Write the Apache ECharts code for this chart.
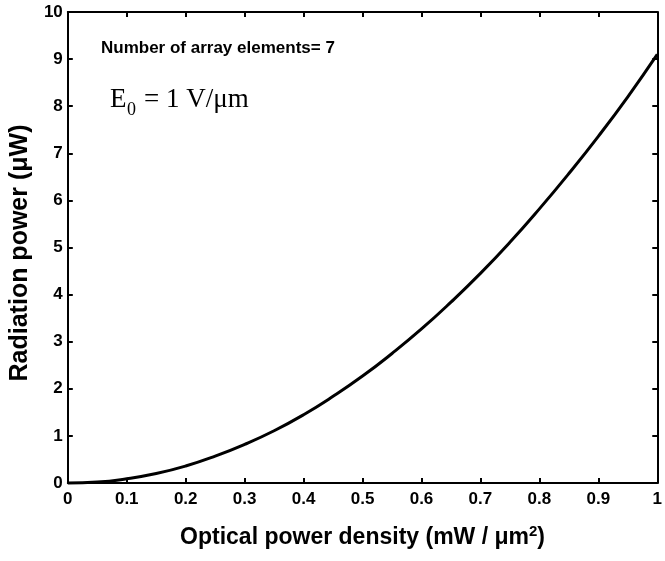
<!DOCTYPE html>
<html><head><meta charset="utf-8">
<script src="https://cdn.jsdelivr.net/npm/echarts@6/dist/echarts.min.js"></script>
<style>html,body{margin:0;padding:0;background:#fff}#c{width:665px;height:561px}</style>
</head><body><div id="c"></div>
<script>
const xValues = [0,0.05,0.1,0.15,0.2,0.25,0.3,0.35,0.4,0.45,0.5,0.55,0.6,0.65,0.7,0.75,0.8,0.85,0.9,0.95,1.0];
const radiationPower = [0,0.02,0.09,0.2,0.36,0.57,0.82,1.11,1.45,1.84,2.27,2.75,3.27,3.84,4.45,5.11,5.82,6.57,7.36,8.2,9.1];
const xTitle = 'Optical power density (mW / μm';
const yTitle = 'Radiation power (μW)';
const annotation1 = 'Number of array elements= 7';

const chart = echarts.init(document.getElementById('c'), null, {renderer:'canvas'});
const axisBase = {
  type:'value',
  axisLine:{show:true,onZero:false,lineStyle:{color:'#000',width:2}},
  axisTick:{show:true,inside:true,length:5,lineStyle:{color:'#000',width:2}},
  splitLine:{show:false}
};
const FF = '"Liberation Sans", Arial, Helvetica';
const lblStyle = {color:'#000',fontFamily:FF,fontWeight:'bold',fontSize:17};
chart.setOption({
  animation:false,
  grid:{left:67,top:12,right:2,bottom:78},
  xAxis:[
    Object.assign({},axisBase,{position:'bottom',min:0,max:1,interval:0.1,
      axisLabel:Object.assign({},lblStyle,{margin:8,formatter:v=>String(+v.toFixed(1))}),
      name:xTitle+'{sup|2}'+')',nameLocation:'middle',nameGap:41,
      nameTextStyle:{color:'#000',fontFamily:FF,fontWeight:'bold',fontSize:23,
        rich:{sup:{fontSize:15,fontWeight:'bold',fontFamily:FF,color:'#000',verticalAlign:'top',padding:[0,0,12,0]}}}}),
    Object.assign({},axisBase,{position:'top',min:0,max:1,interval:0.1,axisLabel:{show:false}})
  ],
  yAxis:[
    Object.assign({},axisBase,{position:'left',min:0,max:10,interval:1,
      axisLabel:Object.assign({},lblStyle,{margin:5}),
      name:yTitle,nameLocation:'middle',nameGap:32,
      nameTextStyle:{color:'#000',fontFamily:FF,fontWeight:'bold',fontSize:25,padding:[0,11,0,0]}}),
    Object.assign({},axisBase,{position:'right',min:0,max:10,interval:1,axisLabel:{show:false}})
  ],
  graphic:[
    {type:'text',left:101,top:40,style:{text:annotation1,fill:'#000',font:'bold 17px "Liberation Sans", Arial'}},
    {type:'text',left:110,top:86,style:{text:'E',fill:'#000',font:'27px "Liberation Serif", "DejaVu Serif", serif'}},
    {type:'text',left:127,top:101,style:{text:'0',fill:'#000',font:'18px "Liberation Serif", "DejaVu Serif", serif'}},
    {type:'text',left:144,top:86,style:{text:'= 1 V/μm',fill:'#000',font:'27px "Liberation Serif", "DejaVu Serif", serif'}}
  ],
  series:[{type:'line',xAxisIndex:0,yAxisIndex:0,data:xValues.map((x,i)=>[x,radiationPower[i]]),
    smooth:true,showSymbol:false,lineStyle:{color:'#000',width:3},clip:false}]
});
</script></body></html>
